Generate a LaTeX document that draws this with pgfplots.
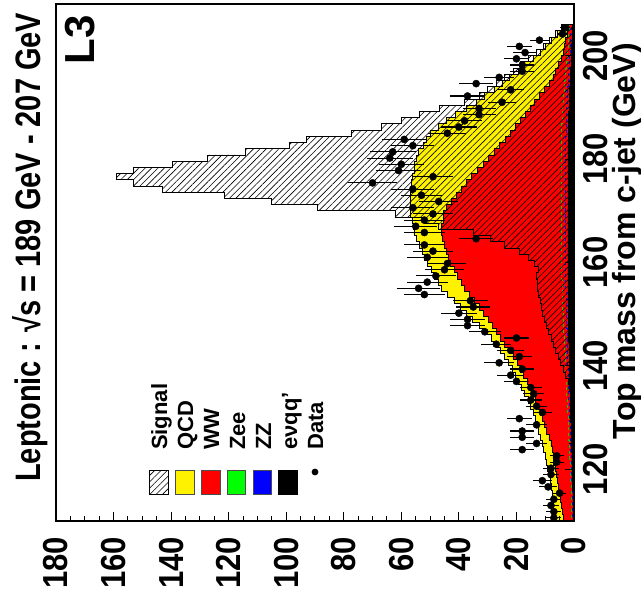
\documentclass[border=0pt]{standalone}
\usepackage{fontspec}
\setmainfont{Liberation Sans}
\usepackage{graphicx}
\usepackage{pgfplots}
\usepackage{pgfplotstable}
\pgfplotsset{compat=1.18}
\usetikzlibrary{patterns.meta}

% bin lower edges (GeV) and cumulative stacked contents; H = signal (hatched, drawn from 0)
\pgfplotstableread{
m Y R G Z E H
110.0 0 0 0 0 0 0
110.0 6.6 3.6 0.9 0.6 0.4 0
111.2 6.9 4.0 0.9 0.6 0.4 0
112.4 7.1 4.4 0.9 0.6 0.4 0
113.6 7.3 4.8 0.9 0.6 0.4 0
114.8 7.6 5.1 0.9 0.6 0.4 0
116.0 8.0 5.5 1.0 0.7 0.5 0
117.2 8.3 5.8 1.1 0.8 0.5 0
118.4 8.7 6.2 1.2 0.8 0.6 0
119.6 9.1 6.6 1.3 0.9 0.6 0
120.8 9.6 7.0 1.4 1.0 0.7 0
122.0 10.0 7.3 1.5 1.0 0.7 0
123.2 10.5 7.6 1.6 1.1 0.8 0
124.4 11.0 8.0 1.7 1.2 0.9 0
125.6 11.6 8.7 1.8 1.3 1.0 0
126.8 12.2 9.4 1.9 1.3 1.0 0
128.0 12.8 10.2 2.0 1.4 1.1 0
129.2 13.4 10.9 2.1 1.5 1.2 0
130.4 14.1 11.7 2.2 1.6 1.3 0
131.6 15.1 12.5 2.3 1.7 1.3 0
132.8 16.0 13.4 2.4 1.8 1.4 0
134.0 17.2 14.2 2.5 1.9 1.4 0
135.2 18.2 15.2 2.6 2.0 1.5 1.0
136.4 19.3 16.3 2.7 2.0 1.5 1.8
137.6 20.4 17.4 2.8 2.1 1.6 2.8
138.8 21.5 18.5 2.9 2.1 1.6 3.8
140.0 22.7 19.7 3.0 2.2 1.7 4.6
141.2 24.2 21.2 3.1 2.2 1.7 5.5
142.4 25.6 22.6 3.2 2.3 1.8 6.4
143.6 27.0 24.0 3.3 2.3 1.8 7.3
144.8 28.7 25.5 3.4 2.4 1.9 8.0
146.0 30.9 26.9 3.5 2.4 1.9 8.8
147.2 33.0 28.4 3.6 2.5 2.0 9.5
148.4 35.2 29.8 3.7 2.5 2.0 10.2
149.6 37.4 31.3 3.8 2.6 2.0 10.8
150.8 39.5 33.0 3.9 2.6 2.0 11.3
152.0 41.7 34.6 4.0 2.7 2.1 11.8
153.2 43.8 36.3 4.0 2.7 2.1 12.2
154.4 46.0 38.0 4.1 2.8 2.1 12.6
155.6 47.2 39.2 4.1 2.8 2.1 12.8
156.8 48.4 40.4 4.2 2.8 2.1 13.0
158.0 49.6 41.6 4.2 2.8 2.1 12.5
159.2 50.8 42.8 4.2 2.8 2.1 13.6
160.4 51.8 43.6 4.3 2.8 2.1 16.0
161.6 52.8 44.3 4.3 2.8 2.1 19.0
162.8 53.7 45.0 4.3 2.8 2.1 24.0
164.0 54.7 45.8 4.3 2.8 2.1 29.0
165.2 55.3 46.0 4.3 2.8 2.1 35.0
166.4 55.8 46.0 4.3 2.8 2.1 47.0
167.6 56.3 45.5 4.3 2.8 2.1 52.0
168.8 56.8 45.2 4.3 2.8 2.1 62.0
170.0 57.0 44.2 4.3 2.8 2.1 89.0
171.2 56.9 42.5 4.3 2.8 2.1 105.0
172.4 56.7 40.8 4.3 2.8 2.1 121.6
173.6 56.6 39.1 4.3 2.8 2.1 143.0
174.8 56.4 37.4 4.3 2.8 2.1 153.0
176.0 56.0 35.5 4.3 2.8 2.1 159.0
177.2 55.6 33.5 4.3 2.8 2.1 153.0
178.4 55.3 31.6 4.3 2.8 2.1 139.7
179.6 54.9 29.7 4.3 2.8 2.1 127.5
180.8 53.9 27.8 4.3 2.8 2.1 114.0
182.0 52.4 25.8 4.3 2.8 2.1 99.0
183.2 51.2 23.9 4.3 2.8 2.0 93.0
184.4 50.0 22.0 4.2 2.7 2.0 77.5
185.6 47.2 20.3 4.2 2.7 2.0 67.0
186.8 44.4 18.6 4.1 2.6 1.9 60.0
188.0 41.2 16.9 4.0 2.6 1.9 53.7
189.2 37.2 15.3 3.9 2.5 1.8 46.7
190.4 34.0 13.6 3.8 2.4 1.7 38.0
191.6 31.0 11.9 3.6 2.3 1.6 33.0
192.8 27.8 10.2 3.4 2.2 1.5 30.0
194.0 25.0 8.6 3.2 2.1 1.4 27.0
195.2 22.3 7.3 3.0 1.9 1.3 24.0
196.4 19.3 6.4 2.8 1.8 1.2 21.0
197.6 17.4 5.4 2.6 1.7 1.1 18.5
198.8 14.2 4.5 2.4 1.5 1.0 16.0
200.0 11.8 3.8 2.2 1.4 0.9 13.0
201.2 9.8 3.3 2.0 1.3 0.8 10.5
202.4 7.8 2.8 1.9 1.2 0.7 8.5
203.6 5.8 2.3 1.8 1.1 0.6 6.5
204.8 3.9 1.9 1.7 1.0 0.5 4.5
206.0 3.9 1.9 1.7 1.0 0.5 4.5
206.0 0 0 0 0 0 0
}\hist

\pgfplotstableread{
m n e
110.6 7 2.65
111.8 7 2.65
113.0 8 2.83
114.2 7 2.65
115.4 5 2.24
116.6 9 3.00
117.8 11 3.32
119.0 8 2.83
120.2 8 2.83
121.4 6 2.45
122.6 6 2.45
123.8 18 4.24
125.0 13 3.61
126.2 18 4.24
127.4 18 4.24
128.6 13 3.61
129.8 19 4.36
131.0 11 3.32
132.2 13 3.61
133.4 15 3.87
134.6 14 3.74
135.8 15 3.87
137.0 20 4.47
138.2 22 4.69
139.4 18 4.24
140.6 26 5.10
141.8 19 4.36
143.0 22 4.69
144.2 27 5.20
145.4 20 4.47
146.6 31 5.57
147.8 37 6.08
149.0 37 6.08
150.2 40 6.32
151.4 35 5.92
152.6 36 6.00
153.8 52 7.21
155.0 54 7.35
156.2 51 7.14
157.4 48 6.93
158.6 45 6.71
159.8 44 6.63
161.0 51 7.14
162.2 49 7.00
163.4 52 7.21
164.6 34 5.83
165.8 52 7.21
167.0 55 7.42
168.2 52 7.21
169.4 49 7.00
170.6 56 7.48
171.8 47 6.86
173.0 53 7.28
174.2 56 7.48
175.4 70 8.37
176.6 49 7.00
177.8 61 7.81
179.0 60 7.75
180.2 64 8.00
181.4 63 7.94
182.6 56 7.48
183.8 59 7.68
185.0 44 6.63
186.2 40 6.32
187.4 38 6.16
188.6 33 5.74
189.8 33 5.74
191.0 25 5.00
192.2 37 6.08
193.4 22 4.69
194.6 34 5.83
195.8 26 5.10
197.0 18 4.24
198.2 18 4.24
199.4 20 4.47
200.6 17 4.12
201.8 19 4.36
203.0 12 3.46
204.2 4 2.00
205.4 3 1.73
}\data

\begin{document}
\begin{tikzpicture}
\path[use as bounding box] (-56pt,-85pt) rectangle (585pt,521pt);
\begin{axis}[
  at={(0pt,0pt)}, anchor=south west,
  scale only axis, width=518pt, height=517pt,
  x dir=reverse,
  xmin=0, xmax=180, ymin=110, ymax=210,
  xtick={0,20,...,180}, ytick={120,140,...,200},
  minor x tick num=3, minor y tick num=3,
  xtick pos=left, ytick pos=right, yticklabel pos=right,
  tick align=inside,
  major tick length=9pt, minor tick length=5pt,
  tick style={black, line width=1pt},
  axis line style={line width=1.3pt},
  /pgf/number format/assume math mode=true,
  ticklabel style={font=\bfseries\fontsize{31}{31}\selectfont},
  xticklabel style={rotate=90, yscale=1.12, anchor=east, inner sep=0pt},
  yticklabel style={rotate=90, yscale=1.12, anchor=north, inner sep=0pt},
  xticklabel shift=16pt, yticklabel shift=9pt,
  axis on top,
]
\addplot[const plot mark right, fill=yellow, draw=black, line width=0.9pt] table[x=Y, y=m] {\hist};
\addplot[const plot mark right, fill=red, draw=black, line width=0.9pt] table[x=R, y=m] {\hist};
\addplot[const plot mark right, draw=green!80!black, dashed, line width=0.9pt] table[x=G, y=m] {\hist};
\addplot[const plot mark right, draw=blue, dashed, line width=0.9pt] table[x=Z, y=m] {\hist};
\addplot[const plot mark right, fill=black, draw=black, line width=0.6pt] table[x=E, y=m] {\hist};
\addplot[const plot mark right, draw=black, line width=0.9pt, pattern={Lines[angle=45,distance=4.5pt,line width=0.6pt]}] table[x=H, y=m] {\hist};
\addplot[only marks, mark=*, mark size=3.6pt, black,
  error bars/.cd, x dir=both, x explicit, error mark=none,
  error bar style={line width=1.1pt, black}]
  table[x=n, y=m, x error=e] {\data};
\end{axis}
% title and labels
\node[rotate=90, anchor=north west, inner sep=0pt, font=\bfseries\fontsize{29}{29}\selectfont] at (-44pt,39pt) {\scalebox{1}[1.22]{Leptonic : √s = 189 GeV - 207 GeV}};
\node[rotate=90, anchor=north east, inner sep=0pt, font=\bfseries\fontsize{32}{32}\selectfont] at (556pt,478pt) {Top mass from c-jet (GeV)};
\node[rotate=90, anchor=north east, inner sep=0pt, font=\bfseries\fontsize{42}{42}\selectfont] at (9pt,506pt) {L3};
% legend
\draw[line width=0.6pt, pattern={Lines[angle=45,distance=4.5pt,line width=0.6pt]}] (93pt,27pt) rectangle (112pt,51pt);
\filldraw[fill=yellow, draw=black!70, line width=0.6pt] (119pt,27pt) rectangle (138pt,51pt);
\filldraw[fill=red, draw=black!70, line width=0.6pt] (145pt,27pt) rectangle (164pt,51pt);
\filldraw[fill=green, draw=black!70, line width=0.6pt] (171pt,27pt) rectangle (189pt,51pt);
\filldraw[fill=blue, draw=black!70, line width=0.6pt] (197pt,27pt) rectangle (215pt,51pt);
\filldraw[fill=black, draw=black, line width=0.6pt] (222pt,27pt) rectangle (241pt,51pt);
\fill (259pt,49pt) circle (3.4pt);
\begin{scope}[every node/.style={rotate=90, anchor=base west, inner sep=0pt, font=\bfseries\fontsize{22}{22}\selectfont}]
\node at (111pt,71pt) {Signal};
\node at (137pt,71pt) {QCD};
\node at (163pt,71pt) {WW};
\node at (189pt,71pt) {Zee};
\node at (215pt,71pt) {ZZ};
\node at (241pt,71pt) {eνqq'};
\node at (267pt,71pt) {Data};
\end{scope}
\end{tikzpicture}
\end{document}
